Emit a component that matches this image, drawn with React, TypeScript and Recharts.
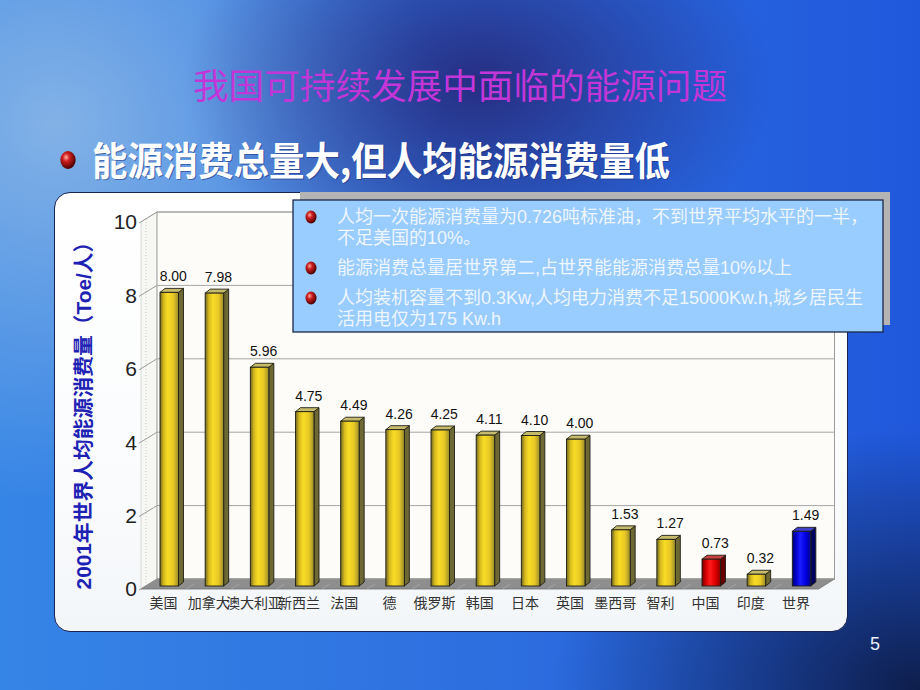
import React from 'react';
import { BarChart, Bar, XAxis, YAxis, CartesianGrid, ReferenceArea, LabelList } from 'recharts';

// ---------- data ----------
const countries = ['美国', '加拿大', '澳大利亚', '新西兰', '法国', '德', '俄罗斯', '韩国', '日本', '英国', '墨西哥', '智利', '中国', '印度', '世界'];
const perCapita = [8.0, 7.98, 5.96, 4.75, 4.49, 4.26, 4.25, 4.11, 4.1, 4.0, 1.53, 1.27, 0.73, 0.32, 1.49];
const yTicks = [0, 2, 4, 6, 8, 10];
const titleText = '我国可持续发展中面临的能源问题';
const subtitleText = '能源消费总量大,但人均能源消费量低';
const yAxisTitle = '2001年世界人均能源消费量（Toe/人）';
const noteLines = [
  ['人均一次能源消费量为0.726吨标准油，不到世界平均水平的一半，', '不足美国的10%。'],
  ['能源消费总量居世界第二,占世界能能源消费总量10%以上'],
  ['人均装机容量不到0.3Kw,人均电力消费不足15000Kw.h,城乡居民生', '活用电仅为175 Kw.h'],
];
const pageNumber = '5';

const data = countries.map((name, i) => ({ name, value: perCapita[i] }));

// ---------- styles ----------
const palettes: Record<string, { stops: string[]; side: string; top: string }> = {
  gold: { stops: ['#6e6623', '#d6ba1e', '#f8dc26', '#e8c824', '#9a8c2c'], side: '#6e6934', top: '#c6bb6c' },
  red: { stops: ['#700000', '#d00000', '#ff1c1c', '#e00000', '#8a0000'], side: '#640000', top: '#c84040' },
  blue: { stops: ['#00006e', '#0000c8', '#1c1cff', '#0000e0', '#00008a'], side: '#000064', top: '#4040c8' },
};
const barTone: Record<string, string> = { 中国: 'red', 世界: 'blue' };

const DEPTH_X = 16;
const DEPTH_Y = 10;
const BAR_DX = 6;
const BAR_DY = -3;
const FACE_D = 5;
const FACE_DV = 4;
const LATIN = '"Liberation Sans", Arial, "Noto Sans CJK SC", sans-serif';
const CJK = '"Noto Sans CJK SC", "Liberation Sans", sans-serif';

function Bar3D(props: any) {
  const { x, y, width, height, index } = props;
  const name = props.payload?.name ?? countries[index];
  const tone = barTone[name] ?? 'gold';
  const p = palettes[tone];
  const X = x + BAR_DX;
  const Y = y + BAR_DY;
  const w = width;
  const h = Math.max(height, 0);
  const stroke = '#1e1e14';
  return (
    <g>
      <polygon
        points={`${X + w},${Y} ${X + w + FACE_D},${Y - FACE_DV} ${X + w + FACE_D},${Y + h - FACE_DV} ${X + w},${Y + h}`}
        fill={p.side}
        stroke={stroke}
        strokeWidth={0.9}
      />
      <polygon
        points={`${X},${Y} ${X + FACE_D},${Y - FACE_DV} ${X + w + FACE_D},${Y - FACE_DV} ${X + w},${Y}`}
        fill={p.top}
        stroke={stroke}
        strokeWidth={0.9}
      />
      <rect x={X} y={Y} width={w} height={h} fill={`url(#front-${tone})`} stroke={stroke} strokeWidth={0.9} />
    </g>
  );
}

function Frame(props: any) {
  const { x, y, width, height } = props;
  const bottom = y + height;
  const step = width / countries.length;
  return (
    <g>
      <polygon
        points={`${x},${y} ${x + DEPTH_X},${y - DEPTH_Y} ${x + DEPTH_X},${bottom - DEPTH_Y} ${x},${bottom}`}
        fill="#f7f7f4"
        stroke="#d0d0d0"
        strokeWidth={0.8}
      />
      <line x1={x + 5} y1={y - 3} x2={x + 5} y2={bottom - 3} stroke="#c8c8c8" strokeDasharray="1 2" />
      <rect x={x + DEPTH_X} y={y - DEPTH_Y} width={width} height={height} fill="#fdfcf8" stroke="#9c9c9c" strokeWidth={1} />
      <polygon
        points={`${x},${bottom} ${x + width},${bottom} ${x + width + DEPTH_X},${bottom - DEPTH_Y} ${x + DEPTH_X},${bottom - DEPTH_Y}`}
        fill="#8e8e8e"
        stroke="#707070"
        strokeWidth={0.8}
      />
      {countries.slice(1).map((_, i) => (
        <line
          key={i}
          x1={x + step * (i + 1)}
          y1={bottom}
          x2={x + step * (i + 1) + DEPTH_X * 0.5}
          y2={bottom - DEPTH_Y * 0.5}
          stroke="#a8a8a8"
          strokeWidth={0.8}
        />
      ))}
    </g>
  );
}

function GridLine(props: any) {
  const { x1, y1, x2 } = props;
  return (
    <g key={props.key}>
      <line x1={x1 + DEPTH_X} y1={y1 - DEPTH_Y} x2={x2 + DEPTH_X} y2={y1 - DEPTH_Y} stroke="#a6a6a6" strokeWidth={1} />
      <line x1={x1 - 2} y1={y1 + 1} x2={x1 + DEPTH_X} y2={y1 - DEPTH_Y} stroke="#9a9a9a" strokeWidth={1} />
    </g>
  );
}

function ValueLabel(props: any) {
  const vb = props.viewBox ?? props;
  const x = props.x ?? vb.x;
  const y = props.y ?? vb.y;
  const width = props.width ?? vb.width;
  return (
    <text
      x={x + width / 2 + BAR_DX + 4}
      y={y + BAR_DY - 11}
      textAnchor="middle"
      fontSize={14}
      fontFamily={LATIN}
      fill="#111"
    >
      {Number(props.value).toFixed(2)}
    </text>
  );
}

function CategoryTick(props: any) {
  const { x, y, payload } = props;
  return (
    <text x={x} y={y + 19} textAnchor="middle" fontSize={14} fontFamily={CJK} fill="#333">
      {payload.value}
    </text>
  );
}

function AxisTitle(props: any) {
  const vb = props.viewBox ?? { x: 81, y: 222, width: 60, height: 367 };
  const cx = vb.x + 2;
  const cy = vb.y + vb.height / 2 + 5;
  return (
    <text
      x={cx}
      y={cy}
      transform={`rotate(-90, ${cx}, ${cy})`}
      textAnchor="middle"
      dominantBaseline="central"
      fontSize={20.8}
      fontWeight="bold"
      fontFamily={LATIN}
      fill="#1e22b4"
    >
      {yAxisTitle}
    </text>
  );
}

function Sphere({ cx, cy, r, id }: { cx: number; cy: number; r: number; id: string }) {
  return (
    <g>
      <defs>
        <radialGradient id={id} cx="38%" cy="35%" r="65%">
          <stop offset="0%" stopColor="#ffb0a0" />
          <stop offset="35%" stopColor="#d02020" />
          <stop offset="100%" stopColor="#4a0000" />
        </radialGradient>
      </defs>
      <ellipse cx={cx} cy={cy} rx={r * 0.85} ry={r} fill={`url(#${id})`} />
    </g>
  );
}

export default function App() {
  const bg =
    'radial-gradient(ellipse 32% 30% at 52% 12%, rgba(38,42,125,0.95), rgba(38,42,125,0) 100%),' +
    'radial-gradient(ellipse 40% 38% at 100% 100%, rgba(14,30,75,1), rgba(14,30,75,0) 100%),' +
    'radial-gradient(ellipse 42% 55% at 6% 18%, rgba(135,180,230,0.95), rgba(135,180,230,0) 100%),' +
    'linear-gradient(90deg, #3585e6 0%, #2f72e0 45%, #2058dc 100%)';
  return (
    <div style={{ position: 'fixed', left: 0, top: 0, width: 920, height: 690, overflow: 'hidden', background: bg }}>
      {/* white panel */}
      <div
        style={{
          position: 'absolute',
          left: 54,
          top: 192,
          width: 794,
          height: 440,
          boxSizing: 'border-box',
          borderRadius: 16,
          border: '1.5px solid #1a2450',
          background: 'linear-gradient(180deg, #ffffff 0%, #fbfcfd 60%, #f3f6f9 100%)',
        }}
      />
      {/* chart */}
      <div style={{ position: 'absolute', left: 0, top: 0 }}>
        <BarChart
          width={920}
          height={690}
          data={data}
          margin={{ top: 222, right: 101.5, bottom: 71, left: 81 }}
          barCategoryGap={0}
        >
          <defs>
            {Object.keys(palettes).map((k) => (
              <linearGradient key={k} id={`front-${k}`} x1="0" y1="0" x2="1" y2="0">
                {palettes[k].stops.map((c, i) => (
                  <stop key={i} offset={[0, 0.2, 0.42, 0.72, 1][i]} stopColor={c} />
                ))}
              </linearGradient>
            ))}
          </defs>
          <ReferenceArea y1={0} y2={10} shape={<Frame />} zIndex={-150} ifOverflow="visible" />
          <CartesianGrid vertical={false} horizontal={(p: any) => <GridLine {...p} />} zIndex={-100} />
          <XAxis
            dataKey="name"
            interval={0}
            axisLine={false}
            tickLine={false}
            tickSize={0}
            tickMargin={0}
            height={30}
            tick={<CategoryTick />}
          />
          <YAxis
            domain={[0, 10]}
            ticks={yTicks}
            width={60}
            axisLine={false}
            tickLine={false}
            tickSize={0}
            tickMargin={4}
            tick={{ fontSize: 21, fill: '#222', fontFamily: LATIN }}
            label={{ content: (p: any) => <AxisTitle {...p} /> }}
          />
          <Bar dataKey="value" barSize={18.5} shape={(p: any) => <Bar3D {...p} />} isAnimationActive={false}>
            <LabelList dataKey="value" content={(p: any) => <ValueLabel {...p} />} />
          </Bar>
        </BarChart>
      </div>
      {/* overlay texts */}
      <svg width={920} height={690} style={{ position: 'absolute', left: 0, top: 0 }}>
        <text
          x={460}
          y={83}
          textAnchor="middle"
          dominantBaseline="central"
          fontSize={35}
          textLength={534}
          lengthAdjust="spacingAndGlyphs"
          fontFamily={CJK}
          fill="#c236d8"
        >
          {titleText}
        </text>
        <Sphere cx={68} cy={160} r={9} id="bullet-main" />
        <g transform="translate(0,158) scale(1,1.12) translate(0,-158)">
          <text
            x={93}
            y={159}
            dominantBaseline="central"
            fontSize={35}
            fontWeight="bold"
            textLength={578}
            lengthAdjust="spacingAndGlyphs"
            fontFamily={CJK}
            fill="#1a2a70"
            opacity={0.5}
          >
            {subtitleText}
          </text>
          <text
            x={92}
            y={158}
            dominantBaseline="central"
            fontSize={35}
            fontWeight="bold"
            textLength={578}
            lengthAdjust="spacingAndGlyphs"
            fontFamily={CJK}
            fill="#ffffff"
          >
            {subtitleText}
          </text>
        </g>
        {/* note box */}
        <rect x={300} y={192} width={590} height={133} fill="#b4b4b4" />
        <rect x={293} y={200} width={590} height={132} fill="#99ccff" stroke="#1a2848" strokeWidth={1.3} />
        {noteLines.map((lines, i) => {
          const top = [217, 268, 298][i];
          return (
            <g key={i}>
              <Sphere cx={311} cy={top} r={6.5} id={`bullet-${i}`} />
              {lines.map((t, j) => (
                <text
                  key={j}
                  x={337}
                  y={top + j * 21}
                  dominantBaseline="central"
                  fontSize={18}
                  fontFamily={LATIN}
                  fill="#eef6ff"
                >
                  {t}
                </text>
              ))}
            </g>
          );
        })}
        <text x={875} y={644} textAnchor="middle" dominantBaseline="central" fontSize={18} fontFamily={LATIN} fill="#e8eef8">
          {pageNumber}
        </text>
      </svg>
    </div>
  );
}
